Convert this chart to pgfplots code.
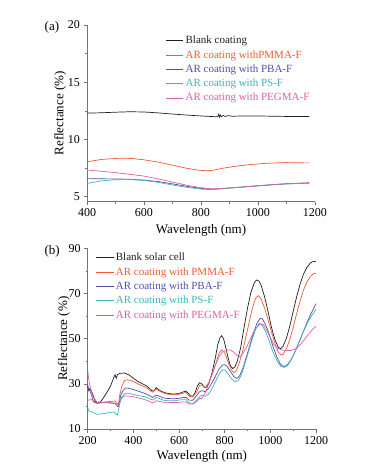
\documentclass[border=0pt]{standalone}
\usepackage{fontspec}
\setmainfont{Liberation Serif}
\usepackage{pgfplots}
\pgfplotsset{compat=1.18}
\definecolor{cblk}{RGB}{30,30,30}
\definecolor{cpmma}{RGB}{240,90,50}
\definecolor{cpba}{RGB}{85,75,175}
\definecolor{cps}{RGB}{60,180,185}
\definecolor{cpeg}{RGB}{220,95,170}
\pgfplotsset{
 panel/.style={
  scale only axis,
  axis x line*=bottom, axis y line*=left,
  axis line style={black!55, line width=0.6pt},
  tick align=outside,
  major tick length=3.5pt, minor tick length=2pt,
  every tick/.style={black!55, line width=0.6pt},
  minor x tick num=1, minor y tick num=1,
  /pgf/number format/assume math mode=true,
  /pgf/number format/1000 sep={},
  ticklabel style={font=\fontsize{12}{14}\selectfont},
  label style={font=\fontsize{13}{15}\selectfont},
  xlabel={Wavelength (nm)}, ylabel={Reflectance (\%)},
  legend style={draw=none, fill=none, font=\fontsize{11}{12}\selectfont, anchor=north west, row sep=1.2pt, inner sep=0pt},
  legend cell align=left,
  every axis plot/.append style={line width=0.7pt},
  clip=false,
 }
}
\begin{document}
\begin{tikzpicture}
\path[use as bounding box] (0,0) rectangle (372pt,-471pt);
% ---------------- panel (a)
\begin{axis}[panel, at={(87pt,-201.7pt)}, anchor=south west,
  width=228pt, height=176.7pt,
  xmin=400, xmax=1200, ymin=4.56, ymax=20,
  xtick={400,600,...,1200}, ytick={5,10,15,20},
  xlabel shift=1pt, ylabel shift=-5pt,
  legend style={at={(0.345,0.95)}}]
\addplot[cblk] coordinates {(400,12.30)(450,12.33)(500,12.38)(550,12.42)(600,12.40)(650,12.32)(700,12.22)(750,12.13)(800,12.05)(840,12.00)(855,11.98)(860,12.05)(862,12.20)(865,11.95)(868,12.14)(872,11.99)(878,12.10)(885,12.01)(895,12.08)(910,12.03)(950,12.05)(1000,12.05)(1050,12.03)(1100,12.01)(1180,12.00)};
\addlegendentry[text=cblk]{Blank coating}
\addplot[cpmma] coordinates {(400,8.05)(450,8.25)(500,8.34)(530,8.36)(560,8.33)(600,8.22)(650,8.02)(700,7.75)(750,7.48)(790,7.32)(820,7.26)(840,7.30)(860,7.40)(880,7.50)(920,7.65)(970,7.80)(1020,7.90)(1060,7.95)(1100,7.98)(1140,7.96)(1180,7.95)};
\addlegendentry[text=cpmma]{AR coating withPMMA-F}
\addplot[cpba] coordinates {(400,6.58)(450,6.56)(500,6.55)(550,6.52)(600,6.45)(650,6.32)(700,6.12)(750,5.90)(800,5.72)(830,5.65)(860,5.68)(900,5.76)(950,5.85)(1000,5.95)(1050,6.04)(1100,6.12)(1180,6.20)};
\addlegendentry[text=cpba]{AR coating with PBA-F}
\addplot[cps] coordinates {(400,6.15)(450,6.38)(500,6.48)(550,6.50)(600,6.42)(650,6.25)(700,6.02)(750,5.82)(800,5.66)(830,5.62)(860,5.66)(900,5.75)(950,5.86)(1000,5.96)(1050,6.05)(1100,6.12)(1180,6.17)};
\addlegendentry[text=cps]{AR coating with PS-F}
\addplot[cpeg] coordinates {(400,7.33)(450,7.22)(500,7.10)(550,6.95)(600,6.80)(650,6.55)(700,6.28)(750,6.00)(800,5.78)(830,5.70)(860,5.70)(900,5.76)(950,5.85)(1000,5.95)(1050,6.05)(1100,6.13)(1180,6.22)};
\addlegendentry[text=cpeg]{AR coating with PEGMA-F}
\node[font=\fontsize{13}{15}\selectfont] at (rel axis cs:-0.154,0.989) {(a)};
\end{axis}
% ---------------- panel (b)
\begin{axis}[panel, at={(87.7pt,-429pt)}, anchor=south west,
  width=228.3pt, height=180.7pt,
  xmin=200, xmax=1200, ymin=10, ymax=90,
  xtick={200,400,...,1200}, ytick={10,30,50,70,90},
  xlabel shift=-1pt, ylabel shift=-8pt,
  legend style={at={(0.036,0.985)}}]
\addplot[cblk] coordinates {(200,29)(205,27)(210,28)(220,26)(230,23)(240,21.5)(250,21.5)(260,22.5)(280,25.5)(300,29)(315,33)(320,34)(325,32.5)(330,34)(340,34.6)(360,34.8)(380,34)(400,32.5)(420,31)(440,30)(460,29)(480,27)(490,26.8)(500,28.3)(510,27.5)(520,26.8)(540,26)(560,25.6)(580,25.5)(600,25.7)(615,26.3)(630,26.8)(640,25.8)(650,24.7)(660,24.5)(670,26)(680,29)(690,30.5)(700,30)(710,28.5)(720,28.5)(730,30)(745,35)(760,42)(770,47.5)(780,50.5)(787,51.3)(795,50)(805,46)(815,41.5)(825,38)(835,36.8)(845,37.5)(855,40)(870,46)(885,55)(900,63.5)(915,70.5)(930,74.8)(940,76)(950,75.5)(960,73.5)(975,68.5)(990,62)(1005,55)(1020,49.5)(1035,46.2)(1045,45.6)(1055,46.5)(1070,50)(1085,55.5)(1100,62)(1115,68.5)(1130,74)(1145,78.5)(1160,81.5)(1175,83.5)(1190,84.3)(1200,84)};
\addlegendentry[text=cblk]{Blank solar cell}
\addplot[cpmma] coordinates {(200,22.8)(220,23)(230,22)(240,21.5)(260,21.8)(280,22)(300,22.2)(320,22.4)(330,21)(335,20.8)(340,25)(350,29)(360,31.3)(370,31.8)(390,31.5)(410,30.5)(430,29.5)(450,28.7)(470,27.3)(485,26.3)(500,27.7)(515,26.8)(530,26)(550,25.4)(580,25.2)(600,25.4)(615,25.8)(630,26.2)(645,24.5)(660,24.2)(675,26)(690,29.3)(700,29.5)(715,28.3)(730,30.5)(745,34)(760,38.5)(775,43.5)(787,45)(800,43.8)(815,39.5)(830,36)(840,35)(850,35.5)(865,39.5)(880,45)(900,54)(920,63)(935,67.8)(947,69)(960,67.5)(975,63.5)(990,58.5)(1005,53)(1020,48)(1035,44)(1045,42.8)(1055,43)(1070,45.5)(1085,49.5)(1100,55)(1115,61)(1130,66.5)(1145,71.5)(1160,75)(1175,77.5)(1190,78.8)(1200,79)};
\addlegendentry[text=cpmma]{AR coating with PMMA-F}
\addplot[cpba] coordinates {(200,30)(203,27)(210,27)(220,24)(225,22)(240,21.5)(260,21.6)(280,21.7)(300,21.6)(320,21.4)(330,20)(335,19.9)(345,25)(355,27)(365,28.2)(380,28)(400,27.5)(420,26.8)(450,25.8)(470,24.8)(485,24)(500,25)(515,24.5)(530,23.8)(550,23.5)(580,23.4)(600,23.6)(615,23.9)(630,24)(645,22.8)(660,22.7)(675,24.5)(690,26.5)(700,27)(715,26.5)(730,28)(745,30.5)(760,33.5)(775,36.5)(790,38.3)(800,38.5)(810,37.8)(825,35.5)(840,33.2)(853,32.4)(865,33.5)(880,37)(900,43.5)(920,50.5)(940,56.5)(955,59)(965,58.8)(980,56)(995,52)(1010,47)(1030,41.5)(1045,38.6)(1060,37.6)(1075,38.5)(1090,40.5)(1105,43.5)(1120,47)(1140,52)(1160,57)(1180,61.5)(1200,65.5)};
\addlegendentry[text=cpba]{AR coating with PBA-F}
\addplot[cps] coordinates {(200,19.5)(205,18)(215,17.7)(225,17.2)(240,16.5)(260,16.7)(280,17)(300,17.4)(315,17.5)(325,16.5)(330,16.2)(340,21)(350,24.3)(365,25.8)(380,25.8)(400,25.3)(420,24.8)(450,24.3)(470,23.4)(485,22.8)(500,24)(515,23.5)(530,22.8)(550,22.5)(580,22.5)(600,22.8)(615,23)(630,23)(645,21.6)(660,21.3)(675,22.5)(690,24.3)(700,25)(715,24.5)(730,25.5)(745,28)(760,31)(775,34.3)(790,36.2)(800,36.1)(815,34.5)(830,32.2)(846,30.9)(860,31.5)(875,34.5)(895,41)(915,48)(935,54)(951,56.8)(965,55.8)(980,53)(995,49)(1010,44.5)(1030,40)(1045,37.8)(1060,37.3)(1075,38)(1090,40.5)(1105,43.5)(1120,47)(1140,52)(1160,56.5)(1180,60)(1200,63)};
\addlegendentry[text=cps]{AR coating with PS-F}
\addplot[cpeg] coordinates {(200,36)(203,33)(208,30)(215,27)(225,24)(240,22)(260,21.8)(280,21.7)(300,21.5)(320,21.2)(330,21)(340,22.5)(350,23.8)(365,24.7)(380,24.6)(400,24.3)(420,23.8)(450,23)(470,22.3)(485,21.5)(500,22.5)(515,22.2)(530,21.9)(550,21.8)(580,21.7)(600,21.8)(615,22)(630,22)(645,21.1)(660,21)(675,22)(690,23.5)(700,23.5)(715,26)(730,30)(745,34.5)(760,38.5)(775,42)(790,44)(810,45)(825,45)(840,44)(855,42.5)(868,42)(880,43.5)(897,46.4)(915,50.5)(935,54.5)(956,56.6)(970,56.2)(985,53.5)(1000,50.5)(1015,47.5)(1030,45.8)(1050,45)(1071,44.7)(1090,44.8)(1115,45.7)(1135,47.8)(1159,50.9)(1180,53.5)(1200,55.6)};
\addlegendentry[text=cpeg]{AR coating with PEGMA-F}
\node[font=\fontsize{13}{15}\selectfont] at (rel axis cs:-0.156,0.985) {(b)};
\end{axis}
\end{tikzpicture}
\end{document}
